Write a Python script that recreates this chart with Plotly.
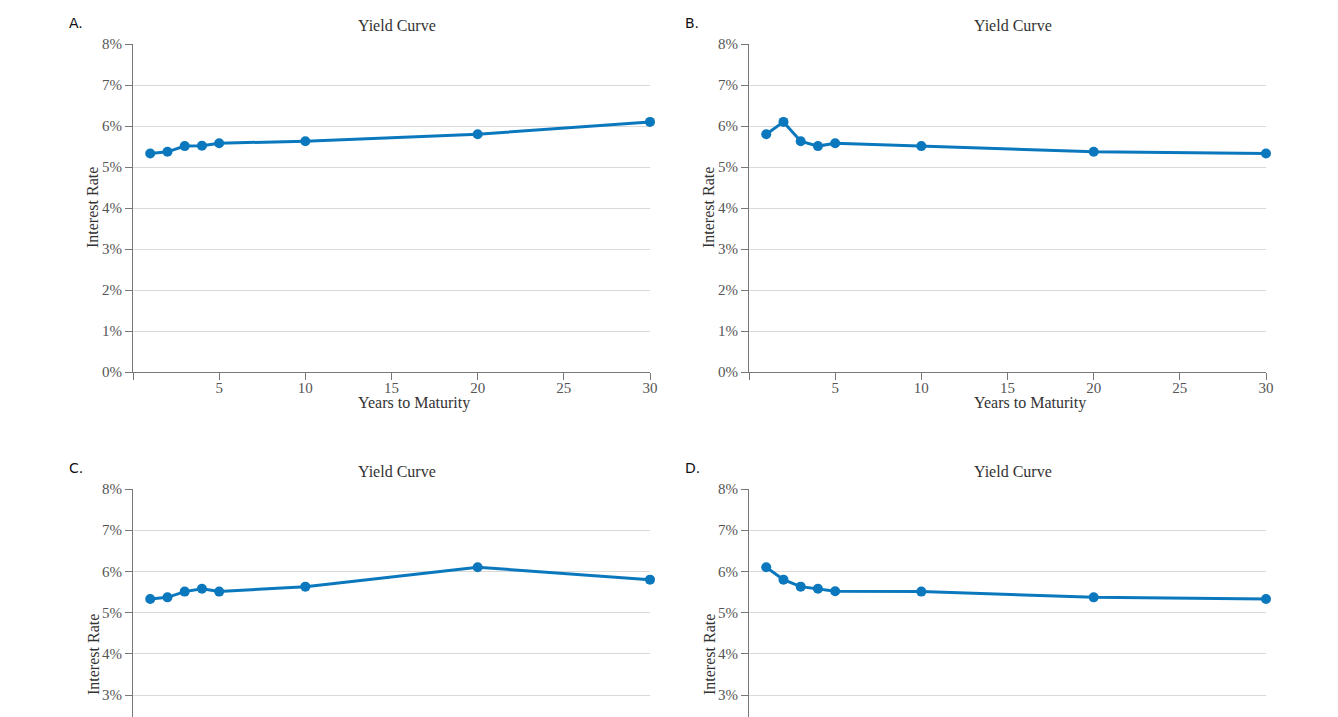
import plotly.graph_objects as go

W, H = 1338, 717

years = [1, 2, 3, 4, 5, 10, 20, 30]
rates_a = [5.33, 5.37, 5.51, 5.52, 5.58, 5.63, 5.80, 6.10]
rates_b = [5.80, 6.10, 5.63, 5.51, 5.58, 5.51, 5.37, 5.33]
rates_c = [5.33, 5.37, 5.51, 5.58, 5.51, 5.63, 6.10, 5.80]
rates_d = [6.10, 5.80, 5.63, 5.58, 5.52, 5.51, 5.37, 5.33]
panel_labels = ["A.", "B.", "C.", "D."]
x_tickvals = [0, 5, 10, 15, 20, 25, 30]
x_ticktext = ["", "5", "10", "15", "20", "25", "30"]
y_ticks_top = [0, 1, 2, 3, 4, 5, 6, 7, 8]
y_ticks_bot = [3, 4, 5, 6, 7, 8]

COLOR = "#0b78bd"
SERIF = "Liberation Serif"


def px(x):
    return x / W


def py(y):
    return 1 - y / H


fig = go.Figure()

# panel geometry in pixels: (x0, x1, ytop, ybottom)
panels = [
    (133, 650, 44, 372),
    (749, 1266, 44, 372),
    (133, 650, 489, 717),
    (749, 1266, 489, 717),
]
data = [rates_a, rates_b, rates_c, rates_d]

for i, (x0, x1, yt, yb) in enumerate(panels):
    n = i + 1
    xa = "x" if n == 1 else f"x{n}"
    ya = "y" if n == 1 else f"y{n}"
    fig.add_trace(go.Scatter(
        x=years, y=data[i], mode="lines+markers", xaxis=xa, yaxis=ya,
        line=dict(color=COLOR, width=3),
        marker=dict(color=COLOR, size=10),
        showlegend=False, hoverinfo="skip", cliponaxis=False,
    ))
    bottom = i >= 2
    xkey = "xaxis" if n == 1 else f"xaxis{n}"
    ykey = "yaxis" if n == 1 else f"yaxis{n}"
    if bottom:
        yrange = [3 - (717 - 695) / 41.2, 8]
        yticks = y_ticks_bot
    else:
        yrange = [0, 8]
        yticks = y_ticks_top
    fig.update_layout(**{
        xkey: dict(
            domain=[px(x0), px(x1)], anchor=ya, range=[0, 30],
            tickvals=x_tickvals, ticktext=x_ticktext,
            ticks="" if bottom else "outside", ticklen=7, tickcolor="#777",
            showticklabels=not bottom, ticklabelstandoff=-5,
            showline=not bottom, linecolor="#777", linewidth=1,
            showgrid=False, zeroline=False,
            tickfont=dict(family=SERIF, size=15, color="#555"),
            fixedrange=True, automargin=False,
        ),
        ykey: dict(
            domain=[py(yb), py(yt)], anchor=xa, range=yrange,
            tickvals=yticks, ticktext=[f"{v}%" for v in yticks],
            ticks="outside", ticklen=7, tickcolor="#777",
            showline=True, linecolor="#777", linewidth=1,
            showgrid=True, gridcolor="#d9d9d9", gridwidth=1,
            zeroline=False,
            tickfont=dict(family=SERIF, size=15, color="#555"),
            fixedrange=True, automargin=False,
        ),
    })

annotations = []
label_pos = [(67, 23), (683, 23), (67, 468), (683, 468)]
for lab, (lx, ly) in zip(panel_labels, label_pos):
    annotations.append(dict(
        x=px(lx), y=py(ly), xref="paper", yref="paper", text=lab,
        showarrow=False, xanchor="left", yanchor="middle",
        font=dict(family="DejaVu Sans", size=14, color="#111"),
    ))

title_pos = [(397, 26), (1013, 26), (397, 471), (1013, 471)]
for tx, ty in title_pos:
    annotations.append(dict(
        x=px(tx), y=py(ty), xref="paper", yref="paper", text="Yield Curve",
        showarrow=False, xanchor="center", yanchor="middle",
        font=dict(family=SERIF, size=16, color="#333"),
    ))

ytitle_pos = [(93, 208), (709, 208), (93, 655), (709, 655)]
for tx, ty in ytitle_pos:
    annotations.append(dict(
        x=px(tx), y=py(ty), xref="paper", yref="paper", text="Interest Rate",
        showarrow=False, xanchor="center", yanchor="middle", textangle=-90,
        font=dict(family=SERIF, size=16, color="#333"),
    ))

xtitle_pos = [(414, 403), (1030, 403)]
for tx, ty in xtitle_pos:
    annotations.append(dict(
        x=px(tx), y=py(ty), xref="paper", yref="paper", text="Years to Maturity",
        showarrow=False, xanchor="center", yanchor="middle",
        font=dict(family=SERIF, size=16, color="#333"),
    ))

fig.update_layout(
    width=W, height=H,
    margin=dict(l=0, r=0, t=0, b=0),
    paper_bgcolor="white", plot_bgcolor="white",
    annotations=annotations,
)

fig.write_html("out.html")
